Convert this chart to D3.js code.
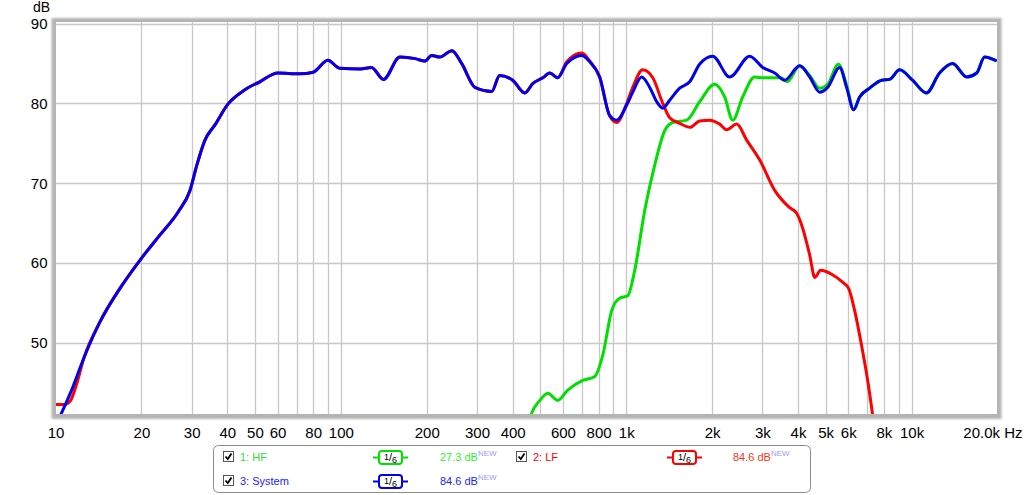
<!DOCTYPE html>
<html><head><meta charset="utf-8">
<script src="https://cdn.jsdelivr.net/npm/d3@7"></script>
<style>
body{margin:0;background:#fff;}
svg{display:block;font-family:"Liberation Sans",Arial,sans-serif;}
</style>
</head><body><svg id="c" width="1024" height="495"></svg>
<script>
// ---------- data ----------
const sysFreq = [10.4,11.3,12.6,14.3,16.8,20.0,23.2,26.9,29.6,31.3,33.4,36.2,40.2,46.1,52.0,60.1,71.8,80,90,99,117,128,141,161,182,197,208,222,245,265,295,338,360,400,441,471,510,540,575,619,699,745,807,875,926,1004,1054,1133,1209,1279,1343,1420,1539,1668,1808,2009,2305,2709,3008,3313,3591,4053,4395,4763,5080,5597,5918,6265,6574,7129,7853,8375,9078,10075,11272,12526,13922,15593,16899,18028,19860];
const sysDb   = [40.9,43.8,48.2,52.6,56.8,60.6,63.5,66.4,69.1,72.3,75.4,77.3,79.9,81.7,82.7,83.8,83.7,83.9,85.4,84.4,84.3,84.5,83.0,85.8,85.6,85.3,86.0,85.8,86.6,85.0,82.0,81.5,83.5,82.9,81.3,82.5,83.2,83.8,83.2,85.0,86.0,85.2,83.3,78.5,77.9,79.8,81.4,83.3,82.0,80.2,79.4,80.4,81.9,82.7,84.9,85.9,83.3,85.9,84.5,83.8,82.9,84.7,83.3,81.4,82.0,84.5,82.0,79.2,80.8,81.9,82.9,83.0,84.2,82.9,81.3,83.8,85.0,83.3,83.8,85.8,85.3];

const lfFreq = [10.0,10.8,11.3,11.8,12.6,14.3,16.8,20.0,23.2,26.9,29.6,31.3,33.4,36.2,40.2,46.1,52.0,60.1,71.8,80,90,99,117,128,141,161,182,197,208,222,245,265,295,338,360,400,441,471,510,540,575,619,699,745,807,875,926,1004,1054,1142,1239,1343,1420,1539,1674,1808,1959,2126,2250,2439,2643,2937,3313,3720,3960,4150,4395,4580,4800,5248,5686,6020,6311,6677,7015,7300,7500];
const lfDb   = [42.3,42.3,42.8,44.6,48.2,52.6,56.8,60.6,63.5,66.4,69.1,72.3,75.4,77.3,79.9,81.7,82.7,83.8,83.7,83.9,85.4,84.4,84.3,84.5,83.0,85.8,85.6,85.3,86.0,85.8,86.6,85.0,82.0,81.5,83.5,82.9,81.3,82.5,83.2,83.8,83.2,85.2,86.3,85.3,83.3,78.4,77.6,80.0,82.0,84.2,83.2,80.0,78.2,77.5,77.0,77.8,77.9,77.4,76.7,77.4,75.4,72.9,69.1,67.0,66.2,64.4,61.0,58.2,59.1,58.6,57.7,56.8,54.1,49.7,45.3,41.0,37.5];

const hfFreq = [450,463,498,531,575,624,704,776,828,890,948,1012,1071,1161,1259,1365,1456,1629,1808,2041,2213,2361,2559,2819,3008,3491,3666,4053,4395,4763,5080,5541,5918,6265,6574,7129,7853,8375,9078,10075,11272,12526,13922,15593,16899,18028,19860];
const hfDb   = [38.5,40.9,42.8,43.7,42.8,44.1,45.3,45.8,48.5,54.1,55.6,55.9,59.1,66.6,72.3,76.6,77.6,77.9,80.2,82.4,80.8,77.9,80.8,83.3,83.2,83.2,82.7,84.7,83.5,81.9,82.4,84.9,82.3,79.2,80.8,81.9,82.9,83.0,84.2,82.9,81.3,83.8,85.0,83.3,83.8,85.8,85.3];

const xTickValues = [10,20,30,40,50,60,80,100,200,300,400,600,800,1000,2000,3000,4000,5000,6000,8000,10000,20000];
const xTickLabels = ["10","20","30","40","50","60","80","100","200","300","400","600","800","1k","2k","3k","4k","5k","6k","8k","10k","20.0k Hz"];
const xGridValues = [20,30,40,50,60,70,80,90,100,200,300,400,500,600,700,800,900,1000,2000,3000,4000,5000,6000,7000,8000,9000,10000];
const yTickValues = [50,60,70,80,90];

const seriesNames  = ["1: HF","2: LF","3: System"];
const seriesColors = ["#00e000","#ff0000","#0000ee"];
const labelColors  = ["#33dd33","#ff0000","#2222ff"];
const levelTexts   = ["27.3 dB","84.6 dB","84.6 dB"];
const levelColors  = ["#33ee33","#ff3311","#2222ff"];

// ---------- scales ----------
const svg = d3.select("#c");
const x = d3.scaleLog().domain([10,20000]).range([55.5,997.5]);
const y = d3.scaleLinear().domain([41.1,90]).range([414,23.5]);
const L = 56, R = 997, T = 22, B = 414;

// ---------- frame ----------
const defs = svg.append("defs");
defs.append("filter").attr("id","blur").append("feGaussianBlur").attr("stdDeviation",1.2);
defs.append("clipPath").attr("id","clip").append("rect").attr("x",L).attr("y",T).attr("width",R-L).attr("height",B-T);
svg.append("rect").attr("x",51.5).attr("y",18).attr("width",950).attr("height",401)
  .attr("fill","#b4b4b4").attr("filter","url(#blur)");
svg.append("rect").attr("x",L).attr("y",T).attr("width",R-L).attr("height",B-T).attr("fill","#fff");

// ---------- grid ----------
const grid = svg.append("g");
grid.selectAll("line.v").data(xGridValues).join("line").attr("class","v")
  .attr("x1",d=>Math.round(x(d))+0.5).attr("x2",d=>Math.round(x(d))+0.5).attr("y1",T).attr("y2",B)
  .attr("stroke","#c8c8c8").attr("stroke-width",1.3);
grid.selectAll("line.h").data(yTickValues).join("line").attr("class","h")
  .attr("x1",L).attr("x2",R).attr("y1",d=>Math.round(y(d))+0.5).attr("y2",d=>Math.round(y(d))+0.5)
  .attr("stroke","#c8c8c8").attr("stroke-width",1.3);

// ---------- axes ----------
const xAxis = d3.axisBottom(x).tickValues(xTickValues).tickSize(0).tickPadding(13)
  .tickFormat((d,i)=>xTickLabels[i]);
const gx = svg.append("g").attr("transform",`translate(0,${B})`).call(xAxis);
gx.select(".domain").remove();
gx.selectAll("text").attr("font-size",15).attr("fill","#000")
  .attr("font-family","'Liberation Sans',Arial,sans-serif");
gx.selectAll(".tick").filter(d=>d===20000).select("text").attr("text-anchor","end").attr("x",1022-x(20000));

const yAxis = d3.axisLeft(y).tickValues(yTickValues).tickSize(0).tickPadding(8);
const gy = svg.append("g").attr("transform",`translate(55.5,0)`).call(yAxis);
gy.select(".domain").remove();
gy.selectAll("text").attr("font-size",15).attr("fill","#000")
  .attr("font-family","'Liberation Sans',Arial,sans-serif");
svg.append("text").attr("x",50).attr("y",12).attr("text-anchor","end").attr("font-size",14).text("dB");

// ---------- curves ----------
const line = d3.line().x(d=>x(d[0])).y(d=>y(d[1])).curve(d3.curveMonotoneX);
const series = [
  {f:hfFreq, v:hfDb, c:seriesColors[0]},
  {f:lfFreq, v:lfDb, c:seriesColors[1]},
  {f:sysFreq, v:sysDb, c:seriesColors[2]}
];
const gc = svg.append("g").attr("clip-path","url(#clip)");
series.forEach(s=>{
  gc.append("path").datum(d3.zip(s.f,s.v)).attr("d",line)
    .attr("fill","none").attr("stroke",s.c).attr("stroke-width",3).attr("stroke-linejoin","round");
});

// ---------- legend ----------
const lg = svg.append("g").attr("font-size",11);
lg.append("rect").attr("x",213.5).attr("y",445.5).attr("width",597).attr("height",47).attr("rx",5)
  .attr("fill","#fff").attr("stroke","#8a8a8a");

const items = [
  {cx:223, ty:240, row:0, sx:373, lx:440, i:0},
  {cx:516, ty:533, row:0, sx:667, lx:733, i:1},
  {cx:223, ty:240, row:1, sx:373, lx:440, i:2}
];
items.forEach(it=>{
  const yc = it.row===0 ? 457 : 481;
  const g = lg.append("g");
  g.append("rect").attr("x",it.cx+0.5).attr("y",yc-5.5).attr("width",10).attr("height",10)
    .attr("fill","#fff").attr("stroke","#555");
  g.append("path").attr("d",`M${it.cx+2.5},${yc-0.5} L${it.cx+4.8},${yc+2} L${it.cx+8.5},${yc-3.5}`)
    .attr("fill","none").attr("stroke","#000").attr("stroke-width",1.8);
  g.append("text").attr("x",it.ty).attr("y",yc+4).attr("fill",labelColors[it.i]).text(seriesNames[it.i]);
  const c = seriesColors[it.i];
  g.append("line").attr("x1",it.sx).attr("x2",it.sx+35).attr("y1",yc+0.5).attr("y2",yc+0.5)
    .attr("stroke",c).attr("stroke-width",2);
  g.append("rect").attr("x",it.sx+6).attr("y",yc-6).attr("width",23).attr("height",13).attr("rx",3)
    .attr("fill","#fff").attr("stroke",c).attr("stroke-width",2);
  const t = g.append("text").attr("x",it.sx+17.5).attr("y",yc+4).attr("text-anchor","middle").attr("fill","#000");
  t.append("tspan").attr("font-size",9).attr("dy",-1.5).text("1");
  t.append("tspan").attr("font-size",11).attr("dy",1.5).text("/");
  t.append("tspan").attr("font-size",9).attr("dy",1.5).text("6");
  const lt = g.append("text").attr("x",it.lx).attr("y",yc+4).attr("fill",levelColors[it.i]).text(levelTexts[it.i]);
  lt.append("tspan").attr("font-size",8).attr("dy",-5).attr("fill","#9a9aff").text("NEW");
});
</script>
</body></html>
